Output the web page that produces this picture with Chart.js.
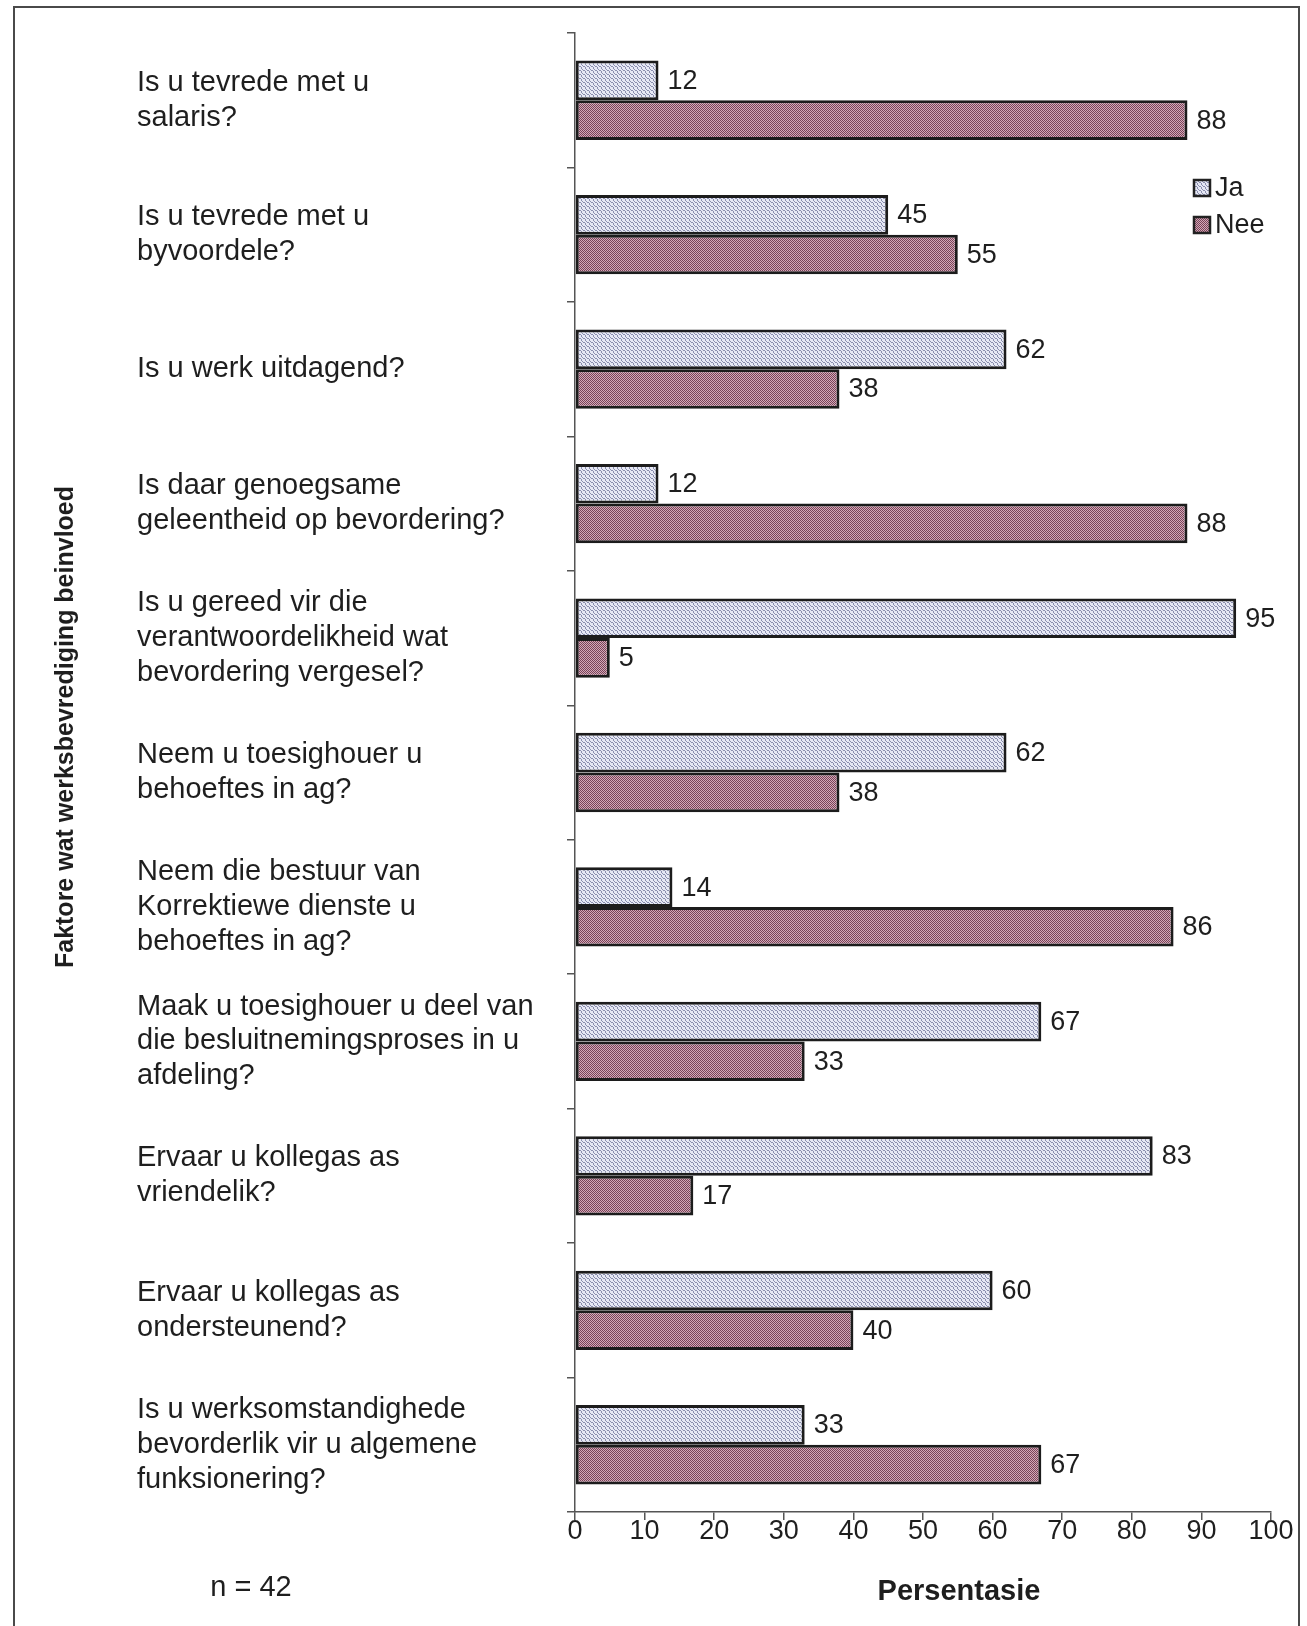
<!DOCTYPE html>
<html>
<head>
<meta charset="utf-8">
<script src="https://cdn.jsdelivr.net/npm/chart.js@4/dist/chart.umd.min.js"></script>
<style>
  html, body { margin: 0; padding: 0; background: #fff; }
  #wrap { position: relative; width: 1307px; height: 1626px; overflow: hidden; }
  #frame { position: absolute; left: 13px; top: 6px; width: 1287px; height: 1700px; border: 2px solid #4a4a4a; box-sizing: border-box; }
  canvas { position: absolute; left: 0; top: 0; }
</style>
</head>
<body>
<div id="wrap">
  <div id="frame"></div>
  <canvas id="chart" width="1307" height="1626"></canvas>
</div>
<script>
// Survey questions (one category per question, wrapped into lines)
const questions = [
  ["Is u tevrede met u", "salaris?"],
  ["Is u tevrede met u", "byvoordele?"],
  ["Is u werk uitdagend?"],
  ["Is daar genoegsame", "geleentheid op bevordering?"],
  ["Is u gereed vir die", "verantwoordelikheid wat", "bevordering vergesel?"],
  ["Neem u toesighouer u", "behoeftes in ag?"],
  ["Neem die bestuur van", "Korrektiewe dienste u", "behoeftes in ag?"],
  ["Maak u toesighouer u deel van", "die besluitnemingsproses in u", "afdeling?"],
  ["Ervaar u kollegas as", "vriendelik?"],
  ["Ervaar u kollegas as", "ondersteunend?"],
  ["Is u werksomstandighede", "bevorderlik vir u algemene", "funksionering?"]
];

// Percentage answering "Ja" and "Nee"
const jaValues  = [12, 45, 62, 12, 95, 62, 14, 67, 83, 60, 33];
const neeValues = [88, 55, 38, 88,  5, 38, 86, 33, 17, 40, 67];

const seriesNames = ["Ja", "Nee"];
const xTickStep = 10;
const xMin = 0, xMax = 100;

const yTitle = "Faktore wat werksbevrediging beinvloed";
const xTitle = "Persentasie";
const sampleNote = "n = 42";

// Fine dotted fills for the two series
function makePattern(base, dot, rule) {
  const c = document.createElement("canvas");
  c.width = 4; c.height = 4;
  const g = c.getContext("2d");
  g.fillStyle = base;
  g.fillRect(0, 0, 4, 4);
  g.fillStyle = dot;
  for (let y = 0; y < 4; y++) {
    for (let x = 0; x < 4; x++) {
      if (rule(x, y)) g.fillRect(x, y, 1, 1);
    }
  }
  return g.createPattern(c, "repeat");
}
const jaFill  = makePattern("#e6e8f4", "#8a8eae", (x, y) => (x - y + 8) % 3 === 0);
const neeFill = makePattern("#d4a8b7", "#774459", (x, y) => (x + y) % 2 === 0);

const FONT = "'Liberation Sans', Arial, sans-serif";
const INK = "#1e1e1e";

// Value labels at the end of each bar, legend, and free-standing titles
const annotations = {
  id: "annotations",
  afterDatasetsDraw(chart) {
    const ctx = chart.ctx;
    ctx.save();
    ctx.fillStyle = INK;
    ctx.font = "27px " + FONT;
    ctx.textAlign = "left";
    ctx.textBaseline = "middle";
    chart.data.datasets.forEach((ds, i) => {
      chart.getDatasetMeta(i).data.forEach((bar, j) => {
        ctx.fillText(String(ds.data[j]), bar.x + 9, bar.y + 1);
      });
    });
    ctx.restore();
  },
  afterDraw(chart) {
    const ctx = chart.ctx;
    ctx.save();
    // legend
    const lx = 1194, ly = [180, 217];
    chart.data.datasets.forEach((ds, i) => {
      ctx.fillStyle = ds.backgroundColor;
      ctx.fillRect(lx, ly[i], 16, 16);
      ctx.lineWidth = 2.5;
      ctx.strokeStyle = "#222";
      ctx.strokeRect(lx, ly[i], 16, 16);
      ctx.fillStyle = INK;
      ctx.font = "27px " + FONT;
      ctx.textAlign = "left";
      ctx.textBaseline = "middle";
      ctx.fillText(ds.label, lx + 21, ly[i] + 9);
    });
    // vertical axis title
    ctx.save();
    ctx.translate(66, 727);
    ctx.rotate(-Math.PI / 2);
    ctx.font = "bold 25px " + FONT;
    ctx.textAlign = "center";
    ctx.textBaseline = "middle";
    ctx.fillStyle = INK;
    ctx.fillText(yTitle, 0, 0);
    ctx.restore();
    // horizontal axis title
    ctx.font = "bold 29px " + FONT;
    ctx.textAlign = "center";
    ctx.textBaseline = "middle";
    ctx.fillStyle = INK;
    ctx.fillText(xTitle, 959, 1592);
    // sample size
    ctx.font = "29px " + FONT;
    ctx.fillText(sampleNote, 251, 1588);
    ctx.restore();
  }
};

new Chart(document.getElementById("chart"), {
  type: "bar",
  data: {
    labels: questions,
    datasets: [
      { label: seriesNames[0], data: jaValues,  backgroundColor: jaFill,  borderColor: "#1c1c1c", borderWidth: 3, borderSkipped: false },
      { label: seriesNames[1], data: neeValues, backgroundColor: neeFill, borderColor: "#1c1c1c", borderWidth: 3, borderSkipped: false }
    ]
  },
  options: {
    indexAxis: "y",
    responsive: false,
    animation: false,
    devicePixelRatio: 1,
    layout: { padding: { left: 137, top: 33, right: 36, bottom: 0 } },
    datasets: { bar: { categoryPercentage: 0.59, barPercentage: 1.0 } },
    plugins: { legend: { display: false }, tooltip: { enabled: false } },
    scales: {
      x: {
        min: xMin, max: xMax,
        ticks: { stepSize: xTickStep, color: INK, font: { family: FONT, size: 27, lineHeight: 1.0 }, padding: -2 },
        grid: { drawOnChartArea: false, drawTicks: true, tickLength: 8, color: "#555", lineWidth: 1.5 },
        border: { display: true, color: "#555", width: 1.5 },
        afterFit(scale) { scale.height = 114; }
      },
      y: {
        offset: true,
        ticks: {
          crossAlign: "far",
          color: INK,
          font: { family: FONT, size: 29, lineHeight: 1.2 },
          autoSkip: false
        },
        grid: { offset: true, drawOnChartArea: false, drawTicks: true, tickLength: 8, color: "#555", lineWidth: 1.5 },
        border: { display: true, color: "#555", width: 1.5 },
        afterFit(scale) {
          scale.width = 438;
          scale.paddingTop = 0;
          scale.paddingBottom = 0;
        }
      }
    }
  },
  plugins: [annotations]
});
</script>
</body>
</html>
